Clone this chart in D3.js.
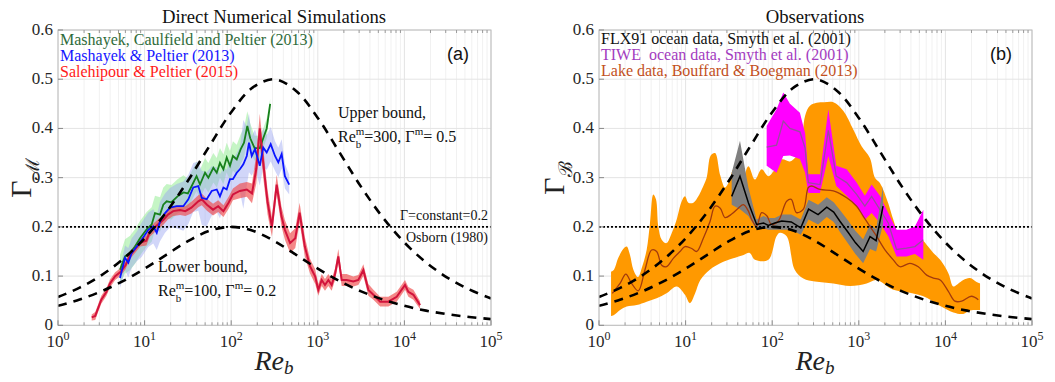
<!DOCTYPE html>
<html>
<head>
<meta charset="utf-8">
<script src="https://cdn.jsdelivr.net/npm/d3@7"></script>
<style>
body { margin: 0; background: #fff; }
svg { display: block; }
text { white-space: pre; }
</style>
</head>
<body>
<svg id="chart" width="1055" height="382" font-family="'Liberation Serif', 'DejaVu Serif', serif"></svg>
<script>
// x values are log10(Re_b)

// model bounds (sampled every quarter decade)
var boundLogRe = [0,0.25,0.5,0.75,1,1.25,1.5,1.75,2,2.25,2.5,2.75,3,3.25,3.5,3.75,4,4.25,4.5,4.75,5];
var upperBound = [0.0575,0.0765,0.1016,0.1344,0.1767,0.2298,0.2937,0.3646,0.4330,0.4834,0.4998,0.4763,0.4213,0.3515,0.2813,0.2193,0.1682,0.1277,0.0965,0.0727,0.0546];
var lowerBound = [0.0396,0.0524,0.0690,0.0898,0.1150,0.1432,0.1709,0.1920,0.2000,0.1920,0.1709,0.1432,0.1150,0.0898,0.0690,0.0524,0.0396,0.0298,0.0224,0.0168,0.0126];

// (a) DNS
var greenLogRe = [0.716,0.774,0.832,0.889,0.947,1.024,1.082,1.12,1.178,1.216,1.255,1.31,1.38,1.45,1.50,1.544,1.60,1.64,1.698,1.736,1.794,1.833,1.87,1.91,1.948,1.986,2.02,2.064,2.11,2.148,2.186,2.22,2.27,2.33,2.37,2.41,2.45];
var greenMid = [0.113,0.140,0.147,0.160,0.177,0.195,0.205,0.228,0.225,0.245,0.252,0.250,0.262,0.270,0.268,0.283,0.303,0.286,0.310,0.300,0.320,0.310,0.330,0.317,0.341,0.324,0.344,0.337,0.358,0.371,0.405,0.380,0.360,0.360,0.380,0.400,0.450];
var greenSpread = [0.03,0.035,0.035,0.035,0.035,0.035,0.035,0.035,0.035,0.035,0.035,0.035,0.035,0.035,0.03,0.03,0.03,0.03,0.03,0.03,0.03,0.03,0.03,0.03,0.03,0.03,0.03,0.03,0.03,0.03,0.03,0.03,0.025,0.025,0.02,0.02,0.01];

var blueLogRe = [0.716,0.774,0.812,0.851,0.909,0.966,1.043,1.10,1.14,1.178,1.236,1.293,1.37,1.447,1.505,1.562,1.62,1.66,1.717,1.775,1.833,1.87,1.91,1.948,1.986,2.02,2.064,2.10,2.14,2.18,2.205,2.237,2.275,2.33,2.37,2.41,2.456,2.506,2.544,2.583,2.62,2.67];
var blueMid = [0.096,0.137,0.127,0.147,0.160,0.174,0.194,0.201,0.188,0.211,0.228,0.239,0.242,0.242,0.256,0.280,0.283,0.259,0.256,0.273,0.276,0.262,0.280,0.276,0.297,0.297,0.310,0.317,0.327,0.344,0.371,0.344,0.358,0.324,0.361,0.351,0.368,0.344,0.331,0.348,0.303,0.286];
var blueSpread = [0.02,0.025,0.03,0.03,0.03,0.035,0.035,0.035,0.035,0.04,0.04,0.04,0.045,0.05,0.05,0.05,0.05,0.055,0.055,0.05,0.045,0.045,0.04,0.04,0.04,0.04,0.04,0.045,0.09,0.06,0.06,0.04,0.04,0.04,0.04,0.035,0.035,0.03,0.03,0.03,0.025,0.02];

var redLogRe = [0.389,0.43,0.47,0.50,0.56,0.60,0.66,0.72,0.78,0.83,0.89,0.95,1.02,1.06,1.14,1.22,1.27,1.33,1.41,1.47,1.54,1.62,1.66,1.72,1.79,1.85,1.91,1.97,2.02,2.10,2.18,2.24,2.29,2.33,2.37,2.42,2.47,2.525,2.58,2.62,2.68,2.74,2.79,2.85,2.91,2.97,3.006,3.045,3.083,3.122,3.16,3.198,3.237,3.276,3.333,3.41,3.468,3.526,3.584,3.642,3.72,3.815,3.911,4.007,4.046,4.104,4.181];
var redMid = [0.016,0.019,0.038,0.052,0.068,0.085,0.100,0.108,0.122,0.142,0.155,0.168,0.172,0.190,0.203,0.215,0.225,0.232,0.234,0.232,0.239,0.252,0.256,0.245,0.235,0.242,0.232,0.249,0.266,0.273,0.276,0.268,0.318,0.400,0.330,0.250,0.200,0.286,0.222,0.194,0.167,0.177,0.229,0.160,0.120,0.099,0.072,0.092,0.082,0.092,0.082,0.103,0.140,0.092,0.092,0.089,0.092,0.112,0.072,0.062,0.048,0.048,0.058,0.082,0.068,0.062,0.041];
var redSpread = [0.006,0.008,0.008,0.008,0.008,0.008,0.008,0.008,0.008,0.008,0.008,0.008,0.01,0.01,0.01,0.01,0.01,0.01,0.01,0.01,0.012,0.012,0.012,0.012,0.012,0.012,0.012,0.012,0.012,0.015,0.015,0.02,0.03,0.03,0.03,0.025,0.02,0.02,0.02,0.02,0.02,0.02,0.02,0.02,0.015,0.015,0.012,0.012,0.012,0.012,0.012,0.012,0.015,0.012,0.012,0.01,0.01,0.012,0.012,0.01,0.01,0.01,0.01,0.01,0.01,0.01,0.008];

// (b) observations
var orangeUpLogRe = [0.139,0.173,0.223,0.289,0.32,0.358,0.397,0.45,0.50,0.55,0.589,0.627,0.658,0.685,0.724,0.78,0.839,0.897,0.955,0.993,1.032,1.09,1.147,1.186,1.243,1.29,1.34,1.40,1.455,1.513,1.55,1.60,1.65,1.725,1.80,1.878,1.955,2.032,2.109,2.205,2.282,2.33,2.38,2.436,2.515,2.60,2.706,2.82,2.936,3.032,3.128,3.186,3.244,3.34,3.398,3.475,3.59,3.725,3.80,3.861,3.94,4.034,4.092,4.15,4.207,4.284,4.36,4.40];
var orangeUp = [0.109,0.113,0.137,0.157,0.160,0.143,0.113,0.098,0.120,0.153,0.208,0.266,0.256,0.201,0.174,0.167,0.187,0.215,0.252,0.262,0.249,0.249,0.262,0.276,0.300,0.345,0.350,0.305,0.280,0.296,0.317,0.318,0.290,0.323,0.296,0.317,0.303,0.317,0.337,0.333,0.344,0.360,0.426,0.446,0.452,0.453,0.453,0.436,0.398,0.364,0.340,0.300,0.289,0.248,0.215,0.181,0.174,0.174,0.160,0.147,0.133,0.106,0.079,0.085,0.092,0.096,0.088,0.085];
var orangeLowLogRe = [0.139,0.173,0.243,0.32,0.435,0.55,0.666,0.78,0.897,0.993,1.05,1.11,1.17,1.28,1.40,1.55,1.67,1.74,1.80,1.955,2.05,2.09,2.167,2.26,2.36,2.494,2.706,2.90,3.09,3.205,3.398,3.59,3.784,3.94,4.092,4.207,4.284,4.40];
var orangeLow = [0.019,0.021,0.031,0.038,0.041,0.048,0.055,0.065,0.079,0.062,0.045,0.065,0.092,0.113,0.126,0.136,0.143,0.147,0.133,0.133,0.181,0.188,0.181,0.113,0.095,0.089,0.085,0.080,0.085,0.092,0.072,0.066,0.056,0.039,0.026,0.023,0.030,0.031];
var lakeLogRe = [0.154,0.243,0.31,0.377,0.454,0.531,0.608,0.666,0.724,0.78,0.858,0.935,0.993,1.07,1.128,1.205,1.282,1.34,1.40,1.455,1.532,1.609,1.667,1.725,1.763,1.82,1.878,1.94,1.99,2.07,2.167,2.22,2.28,2.36,2.417,2.456,2.552,2.706,2.86,2.975,3.05,3.128,3.205,3.30,3.398,3.475,3.59,3.687,3.784,3.86,3.94,4.034,4.11,4.188,4.30,4.38];
var lakeMid = [0.065,0.085,0.104,0.085,0.070,0.113,0.153,0.150,0.122,0.119,0.136,0.150,0.160,0.156,0.150,0.177,0.211,0.242,0.238,0.219,0.226,0.238,0.245,0.232,0.215,0.201,0.229,0.222,0.205,0.212,0.252,0.256,0.229,0.236,0.280,0.283,0.276,0.273,0.259,0.242,0.222,0.201,0.181,0.154,0.133,0.119,0.126,0.119,0.102,0.096,0.092,0.069,0.049,0.049,0.059,0.052];

var flxLogRe = [1.532,1.628,1.725,1.82,1.90,1.955,2.03,2.11,2.22,2.33,2.42,2.53,2.63,2.71,2.78,2.88,2.96,3.05,3.13,3.20,3.28];
var flxMid = [0.262,0.303,0.249,0.205,0.208,0.203,0.208,0.212,0.210,0.198,0.236,0.225,0.240,0.230,0.212,0.188,0.168,0.150,0.180,0.172,0.242];
var flxHi = [0.310,0.375,0.280,0.215,0.222,0.218,0.218,0.225,0.225,0.215,0.255,0.245,0.260,0.250,0.235,0.212,0.192,0.175,0.205,0.195,0.283];
var flxLo = [0.245,0.236,0.222,0.194,0.197,0.194,0.194,0.194,0.194,0.184,0.215,0.205,0.220,0.210,0.190,0.165,0.145,0.126,0.155,0.150,0.205];

var tiweLogRe = [1.936,2.05,2.128,2.205,2.32,2.38,2.417,2.552,2.648,2.74,2.86,2.975,3.07,3.148,3.244,3.34,3.436,3.55,3.648,3.745];
var tiweMid = [0.362,0.366,0.415,0.400,0.393,0.360,0.290,0.286,0.396,0.303,0.290,0.266,0.242,0.262,0.235,0.208,0.154,0.157,0.160,0.174];
var tiweHi = [0.405,0.439,0.473,0.450,0.432,0.390,0.307,0.307,0.439,0.324,0.317,0.290,0.263,0.286,0.263,0.228,0.194,0.194,0.201,0.235];
var tiweLo = [0.324,0.310,0.344,0.345,0.338,0.310,0.269,0.269,0.344,0.283,0.263,0.242,0.215,0.228,0.208,0.181,0.140,0.140,0.145,0.133];

var yTicks = [0, 0.1, 0.2, 0.3, 0.4, 0.5, 0.6];
var xDecades = [0, 1, 2, 3, 4, 5];

var svg = d3.select("#chart");
var y = d3.scaleLinear().domain([0, 0.6]).range([325.3, 30]);

var toPts = function(logs, vals, lo, hi) {
  return logs.map(function(l, i) {
    return {re: Math.pow(10, l), v: vals[i], lo: lo ? lo[i] : null, hi: hi ? hi[i] : null};
  });
};
var withSpread = function(logs, vals, spread) {
  return logs.map(function(l, i) {
    return {re: Math.pow(10, l), v: vals[i], lo: vals[i] - spread[i], hi: vals[i] + spread[i]};
  });
};

var minorTicks = function() {
  var minors = [];
  xDecades.slice(0, 5).forEach(function(k) {
    for (var m = 2; m < 10; m++) minors.push(m * Math.pow(10, k));
  });
  return minors;
};

var drawFrame = function(id, left) {
  var x = d3.scaleLog().domain([1, 1e5]).range([left, left + 433]);
  var g = svg.append("g");
  svg.append("clipPath").attr("id", id).append("rect")
    .attr("x", left).attr("y", 30).attr("width", 433).attr("height", 295.3);

  g.selectAll(".minor").data(minorTicks()).enter().append("line")
    .attr("x1", function(d) { return x(d); }).attr("x2", function(d) { return x(d); })
    .attr("y1", 30).attr("y2", 325.3).attr("stroke", "#f1f1f1");
  g.selectAll(".xmaj").data(xDecades).enter().append("line")
    .attr("x1", function(d) { return x(Math.pow(10, d)); }).attr("x2", function(d) { return x(Math.pow(10, d)); })
    .attr("y1", 30).attr("y2", 325.3).attr("stroke", "#e4e4e4");
  g.selectAll(".ymaj").data(yTicks).enter().append("line")
    .attr("x1", left).attr("x2", left + 433)
    .attr("y1", function(d) { return y(d); }).attr("y2", function(d) { return y(d); })
    .attr("stroke", "#e4e4e4");
  return x;
};

var drawAxes = function(x, left) {
  var g = svg.append("g");
  g.append("rect").attr("x", left).attr("y", 30).attr("width", 433).attr("height", 295.3)
    .attr("fill", "none").attr("stroke", "#bdbdbd").attr("stroke-width", 1);
  var minors = minorTicks();
  g.selectAll(".mt").data(minors).enter().append("line")
    .attr("x1", function(d) { return x(d); }).attr("x2", function(d) { return x(d); })
    .attr("y1", 325.3).attr("y2", 322.3).attr("stroke", "#9a9a9a");
  g.selectAll(".mt2").data(minors).enter().append("line")
    .attr("x1", function(d) { return x(d); }).attr("x2", function(d) { return x(d); })
    .attr("y1", 30).attr("y2", 33).attr("stroke", "#9a9a9a");
  g.selectAll(".xt").data(xDecades).enter().append("line")
    .attr("x1", function(d) { return x(Math.pow(10, d)); }).attr("x2", function(d) { return x(Math.pow(10, d)); })
    .attr("y1", 325.3).attr("y2", 320.3).attr("stroke", "#8a8a8a");
  g.selectAll(".yt").data(yTicks).enter().append("line")
    .attr("x1", left).attr("x2", left + 5)
    .attr("y1", function(d) { return y(d); }).attr("y2", function(d) { return y(d); })
    .attr("stroke", "#8a8a8a");

  var xl = g.selectAll(".xl").data(xDecades).enter().append("text")
    .attr("x", function(d) { return x(Math.pow(10, d)); }).attr("y", 347)
    .attr("text-anchor", "middle").attr("font-size", 17).attr("fill", "#262626");
  xl.append("tspan").text("10");
  xl.append("tspan").attr("dy", -7).attr("font-size", 12).text(function(d) { return d; });

  g.selectAll(".yl").data(yTicks).enter().append("text")
    .attr("x", left - 5).attr("y", function(d) { return y(d) + 5; })
    .attr("text-anchor", "end").attr("font-size", 17).attr("fill", "#262626")
    .text(function(d) { return d === 0 ? "0" : d3.format(".1f")(d); });

  var lab = g.append("text").attr("x", left + 216).attr("y", 370)
    .attr("text-anchor", "middle").attr("font-size", 28).attr("font-style", "italic")
    .attr("fill", "#222");
  lab.append("tspan").text("Re");
  lab.append("tspan").attr("dy", 4).attr("font-size", 19).text("b");
};

var lineGen = function(x, curve) {
  return d3.line().x(function(d) { return x(d.re); }).y(function(d) { return y(d.v); }).curve(curve || d3.curveLinear);
};
var bandGen = function(x) {
  return d3.area().x(function(d) { return x(d.re); })
    .y0(function(d) { return y(d.lo); }).y1(function(d) { return y(d.hi); });
};

var drawBounds = function(g, x) {
  var bl = lineGen(x, d3.curveCatmullRom);
  [upperBound, lowerBound].forEach(function(vals) {
    g.append("path").attr("d", bl(toPts(boundLogRe, vals)))
      .attr("fill", "none").attr("stroke", "#000").attr("stroke-width", 2.6)
      .attr("stroke-dasharray", "9,7");
  });
  g.append("line").attr("x1", x(1)).attr("x2", x(1e5)).attr("y1", y(0.2)).attr("y2", y(0.2))
    .attr("stroke", "#000").attr("stroke-width", 1.6).attr("stroke-dasharray", "2,2");
};

// ---------- panel (a)
var xa = drawFrame("clipA", 58);
var ga = svg.append("g").attr("clip-path", "url(#clipA)");
var band = bandGen(xa);
ga.append("path").attr("d", band(withSpread(greenLogRe, greenMid, greenSpread)))
  .attr("fill", "#9fef9f").attr("opacity", 0.6);
ga.append("path").attr("d", band(withSpread(blueLogRe, blueMid, blueSpread)))
  .attr("fill", "#9aa4f2").attr("opacity", 0.45);
ga.append("path").attr("d", band(withSpread(redLogRe, redMid, redSpread)))
  .attr("fill", "#f04848").attr("opacity", 0.65);
var la = lineGen(xa);
ga.append("path").attr("d", la(toPts(greenLogRe, greenMid)))
  .attr("fill", "none").attr("stroke", "#17801c").attr("stroke-width", 1.8);
ga.append("path").attr("d", la(toPts(redLogRe, redMid)))
  .attr("fill", "none").attr("stroke", "#d2133c").attr("stroke-width", 2);
ga.append("path").attr("d", la(toPts(blueLogRe, blueMid)))
  .attr("fill", "none").attr("stroke", "#0a14ff").attr("stroke-width", 1.8);
drawBounds(ga, xa);
drawAxes(xa, 58);

// ---------- panel (b)
var xb = drawFrame("clipB", 599);
var gb = svg.append("g").attr("clip-path", "url(#clipB)");
var smooth = lineGen(xb, d3.curveCatmullRom);
var upPath = smooth(toPts(orangeUpLogRe, orangeUp));
var lowPath = smooth(toPts(orangeLowLogRe, orangeLow).reverse());
gb.append("path").attr("d", upPath + "L" + lowPath.slice(1) + "Z").attr("fill", "#ff9900");
var bandB = bandGen(xb);
gb.append("path").attr("d", bandB(toPts(tiweLogRe, tiweMid, tiweLo, tiweHi))).attr("fill", "#ff00ff");
gb.append("path").attr("d", bandB(toPts(flxLogRe, flxMid, flxLo, flxHi))).attr("fill", "#808080");
gb.append("path").attr("d", smooth(toPts(lakeLogRe, lakeMid)))
  .attr("fill", "none").attr("stroke", "#a33a0c").attr("stroke-width", 1.3);
var lb = lineGen(xb);
gb.append("path").attr("d", lb(toPts(tiweLogRe, tiweMid)))
  .attr("fill", "none").attr("stroke", "#9b4aa0").attr("stroke-width", 1.3);
gb.append("path").attr("d", lb(toPts(flxLogRe, flxMid)))
  .attr("fill", "none").attr("stroke", "#000").attr("stroke-width", 1.5);
drawBounds(gb, xb);
drawAxes(xb, 599);

// ---------- text
var addText = function(x0, y0, str, size, color, anchor, family) {
  var t = svg.append("text").attr("x", x0).attr("y", y0).attr("font-size", size)
    .attr("text-anchor", anchor || "start").attr("fill", color || "#111").text(str);
  if (family) t.attr("font-family", family);
  return t;
};

addText(274, 23, "Direct Numerical Simulations", 18.7, "#111", "middle");
addText(815, 23, "Observations", 18.7, "#111", "middle");

addText(60, 45, "Mashayek, Caulfield and Peltier (2013)", 16, "#2f6b3a");
addText(60, 61, "Mashayek & Peltier (2013)", 16, "#1414ff");
addText(60, 77, "Salehipour & Peltier (2015)", 16, "#ff1a1a");
addText(447, 60, "(a)", 18, "#111", "start", "'Liberation Sans', Arial, sans-serif");

addText(601, 44, "FLX91 ocean data, Smyth et al. (2001)", 16, "#111");
addText(601, 60, "TIWE  ocean data, Smyth et al. (2001)", 16, "#a33cbf");
addText(601, 76, "Lake data, Bouffard & Boegman (2013)", 16, "#c2501c");
addText(990, 60, "(b)", 18, "#111", "start", "'Liberation Sans', Arial, sans-serif");

addText(338, 118, "Upper bound,", 16, "#111");
var reText = function(x0, y0, reVal, gVal) {
  var t = svg.append("text").attr("x", x0).attr("y", y0).attr("font-size", 16).attr("fill", "#111");
  t.append("tspan").text("Re");
  t.append("tspan").attr("dy", -7).attr("font-size", 11).text("m");
  t.append("tspan").attr("dx", -8.5).attr("dy", 13).attr("font-size", 11).text("b");
  t.append("tspan").attr("dx", 3).attr("dy", -6).text("=" + reVal + ", \u0393");
  t.append("tspan").attr("dy", -7).attr("font-size", 11).text("m");
  t.append("tspan").attr("dy", 7).text("= " + gVal);
};
reText(338, 142, 300, "0.5");
addText(158, 272, "Lower bound,", 16, "#111");
reText(158, 296, 100, "0.2");
addText(488, 220, "\u0393=constant=0.2", 14, "#111", "end");
addText(488, 242, "Osborn (1980)", 14, "#111", "end");

var ylab = function(tx, sub) {
  var t = svg.append("text").attr("transform", "translate(" + tx + ",178) rotate(-90)")
    .attr("text-anchor", "middle").attr("font-size", 30).attr("fill", "#222");
  t.append("tspan").text("\u0393");
  t.append("tspan").attr("dy", 8).attr("font-size", 19).text(sub);
};
ylab(31, "\u2133");
ylab(564, "\u212C");
</script>
</body>
</html>
